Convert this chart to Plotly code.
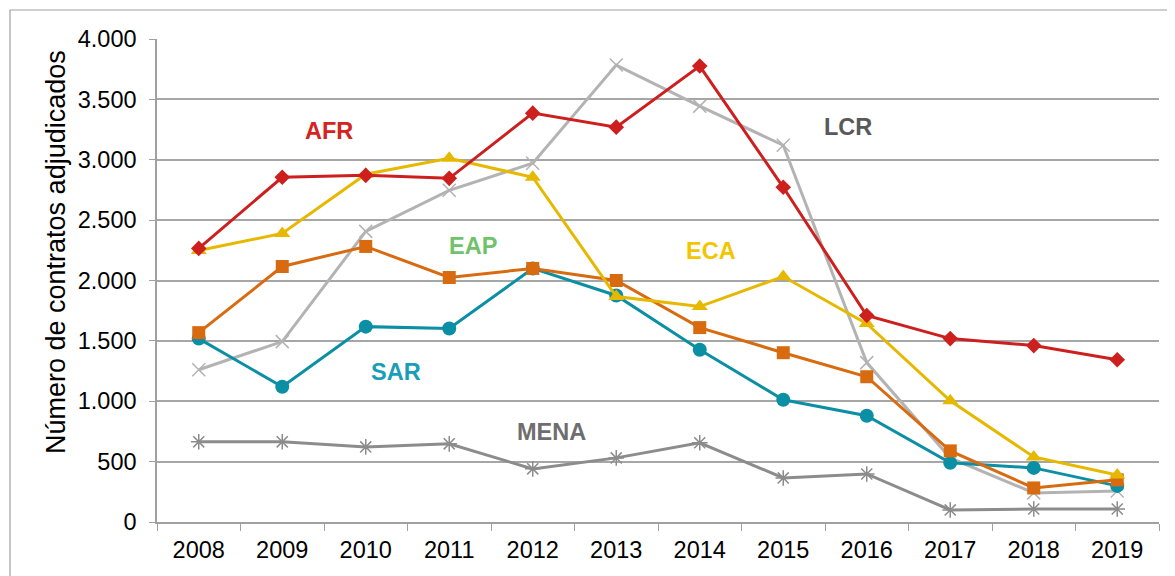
import plotly.graph_objects as go

years = ["2008", "2009", "2010", "2011", "2012", "2013", "2014", "2015", "2016", "2017", "2018", "2019"]
afr = [2266, 2855, 2871, 2846, 3386, 3270, 3776, 2772, 1710, 1519, 1461, 1344]
eca = [2249, 2390, 2880, 3012, 2855, 1867, 1784, 2033, 1643, 1004, 539, 390]
lcr = [1261, 1494, 2407, 2747, 2971, 3784, 3444, 3120, 1320, 531, 241, 257]
eap = [1568, 2116, 2282, 2025, 2100, 2000, 1610, 1402, 1203, 589, 282, 349]
sar = [1519, 1120, 1618, 1602, 2100, 1876, 1427, 1012, 880, 490, 448, 299]
mena = [664, 664, 622, 647, 440, 531, 656, 365, 398, 100, 108, 108]

label_names = ["AFR", "EAP", "ECA", "LCR", "SAR", "MENA"]
label_x = [1.56, 3.29, 6.14, 7.77, 2.36, 4.23]
label_y = [3237, 2282, 2241, 3270, 1245, 747]
label_colors = ["#D42320", "#70C36B", "#F2C500", "#595959", "#1A9DB8", "#6E6E6E"]

y_title = "Número de contratos adjudicados"

FONT = "Liberation Sans, Arial, sans-serif"

fig = go.Figure()

def add(vals, color, symbol, size, mline=None):
    marker = dict(symbol=symbol, size=size, color=color)
    if mline:
        marker["line"] = dict(color=mline, width=1.5)
    fig.add_trace(go.Scatter(x=years, y=vals, mode="lines+markers",
                             line=dict(color=color, width=3), marker=marker,
                             showlegend=False))

add(mena, "#8C8C8C", "asterisk-open", 13, "#8C8C8C")
add(lcr, "#B3B3B3", "x-thin-open", 13, "#B3B3B3")
add(sar, "#0B8FA4", "circle", 14)
add(eap, "#D86A10", "square", 13)
add(eca, "#E6B800", "triangle-up", 14)
add(afr, "#CE1F1F", "diamond", 12)

for n, x, y, c in zip(label_names, label_x, label_y, label_colors):
    fig.add_annotation(x=x, y=y, text="<b>%s</b>" % n, showarrow=False,
                       font=dict(family=FONT, size=23.5, color=c),
                       xanchor="center", yanchor="middle")

fig.add_annotation(xref="paper", yref="paper", x=-0.1008, y=0.559, text=y_title,
                   textangle=-90, showarrow=False, xanchor="center", yanchor="middle",
                   font=dict(family=FONT, size=27, color="#000000"))

fig.add_shape(type="rect", xref="paper", yref="paper",
              x0=-0.1467, x1=1.1, y0=-0.2, y1=1.060,
              line=dict(color="#A0A0A0", width=1.2), fillcolor="rgba(0,0,0,0)")

fig.update_layout(
    width=1175, height=576,
    margin=dict(l=149, r=24, t=31, b=62),
    paper_bgcolor="white", plot_bgcolor="white",
    separators=",.",
    font=dict(family=FONT, size=23, color="#000000"),
    xaxis=dict(type="category", tickson="boundaries", ticks="outside", ticklen=7,
               tickcolor="#A0A0A0", showline=True, linecolor="#A0A0A0", linewidth=1.5,
               showgrid=False, tickfont=dict(size=23.5), range=[-0.5, 11.5],
               ticklabelstandoff=6),
    yaxis=dict(range=[0, 4000], dtick=500, tickformat=",d", ticks="outside", ticklen=6,
               tickcolor="#A0A0A0", showline=True, linecolor="#A0A0A0", linewidth=1.5,
               showgrid=True, gridcolor="#A6A6A6", gridwidth=1.5, zeroline=False,
               tickfont=dict(size=23.5), ticklabelstandoff=8),
)

fig.write_html("out.html")
